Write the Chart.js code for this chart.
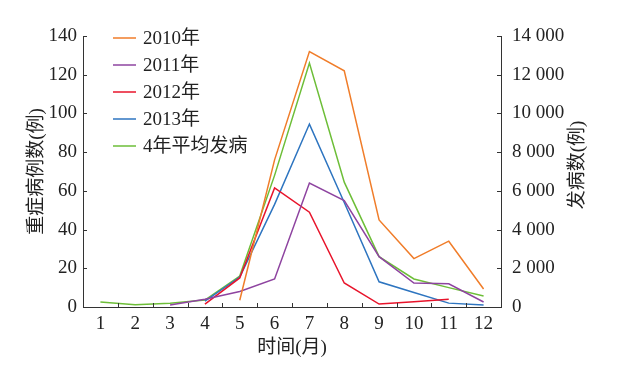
<!DOCTYPE html>
<html>
<head>
<meta charset="utf-8">
<script src="https://cdn.jsdelivr.net/npm/chart.js@4/dist/chart.umd.min.js"></script>
<style>
  body { margin: 0; background: #fff; }
  canvas { display: block; }
</style>
</head>
<body>
<canvas id="grafico" width="621" height="374"></canvas>
<script>
const meses = ['1', '2', '3', '4', '5', '6', '7', '8', '9', '10', '11', '12'];
const casos2010 = [null, null, null, null, 3.5, 76, 132, 122, 45, 25, 34, 9.3];
const casos2011 = [null, null, 1, 4, 8, 14.5, 64, 55, 26, 12.4, 12, 2.6];
const casos2012 = [null, null, null, 1.5, 15, 61.5, 49, 12.4, 1.5, 2.7, 4, null];
const casos2013 = [null, null, null, 3, 15.5, 53, 94.5, 54, 13, 7.5, 2, 1];
// media de 4 anos, eixo da direita
const media4anos = [260, 120, 200, 360, 1600, 6800, 12600, 6450, 2600, 1450, 1000, 570];

const fonte = "'Liberation Serif', 'Noto Sans CJK SC', serif";
const corEixo = '#333';
const corTexto = '#222';

// tracinhos para dentro, nos eixos
const marcasInternas = {
  id: 'marcasInternas',
  afterDraw(chart) {
    const c = chart.ctx;
    const x = chart.scales.x, y = chart.scales.y, y1 = chart.scales.y1;
    c.save();
    c.strokeStyle = corEixo;
    c.lineWidth = 1;
    c.beginPath();
    for (let i = 0; i < meses.length - 1; i++) {
      const px = Math.round((x.getPixelForValue(i) + x.getPixelForValue(i + 1)) / 2) + 0.5;
      c.moveTo(px, x.top);
      c.lineTo(px, x.top - 4);
    }
    y.ticks.forEach(t => {
      const py = Math.round(y.getPixelForValue(t.value)) + 0.5;
      c.moveTo(y.right, py);
      c.lineTo(y.right + 4, py);
    });
    y1.ticks.forEach(t => {
      const py = Math.round(y1.getPixelForValue(t.value)) + 0.5;
      c.moveTo(y1.left, py);
      c.lineTo(y1.left - 4, py);
    });
    c.stroke();
    c.restore();
  }
};

// legenda e titulo do eixo direito
const legendaManual = {
  id: 'legendaManual',
  afterDraw(chart) {
    const c = chart.ctx;
    c.save();
    c.font = '19px ' + fonte;
    c.textBaseline = 'middle';
    c.fillStyle = corTexto;
    chart.data.datasets.forEach((ds, i) => {
      const ly = 38 + i * 27;
      c.strokeStyle = ds.borderColor;
      c.lineWidth = 1.5;
      c.beginPath();
      c.moveTo(113, ly);
      c.lineTo(136, ly);
      c.stroke();
      c.fillText(ds.label, 143, ly + 1);
    });
    c.translate(578, 165);
    c.rotate(-Math.PI / 2);
    c.textAlign = 'center';
    c.fillText('发病数(例)', 0, 0);
    c.restore();
  }
};

const ctx = document.getElementById('grafico');

new Chart(ctx, {
  type: 'line',
  data: {
    labels: meses,
    datasets: [
      { label: '2010年', data: casos2010, borderColor: '#f07d2a', yAxisID: 'y' },
      { label: '2011年', data: casos2011, borderColor: '#8e44a0', yAxisID: 'y' },
      { label: '2012年', data: casos2012, borderColor: '#e8142b', yAxisID: 'y' },
      { label: '2013年', data: casos2013, borderColor: '#2e75c0', yAxisID: 'y' },
      { label: '4年平均发病', data: media4anos, borderColor: '#6dbe38', yAxisID: 'y1' }
    ].map(d => Object.assign(d, { borderWidth: 1.5, pointRadius: 0, fill: false, tension: 0 }))
  },
  options: {
    responsive: false,
    animation: false,
    layout: { padding: { top: 36, left: 0, right: 0, bottom: 0 } },
    plugins: { legend: { display: false }, tooltip: { enabled: false } },
    scales: {
      x: {
        offset: true,
        grid: { display: false, drawTicks: false },
        border: { display: true, color: corEixo },
        ticks: { color: corTexto, font: { family: fonte, size: 19 }, padding: 6, maxRotation: 0, autoSkip: false },
        title: { display: true, text: '时间(月)', color: corTexto, font: { family: fonte, size: 19 }, padding: { bottom: 15 } },
        afterFit(s) { s.height = 67; }
      },
      y: {
        position: 'left',
        min: 0, max: 140,
        grid: { display: false, drawTicks: false },
        border: { display: true, color: corEixo },
        ticks: { stepSize: 20, color: corTexto, font: { family: fonte, size: 19 }, padding: 6 },
        title: { display: true, text: '重症病例数(例)', color: corTexto, font: { family: fonte, size: 19 }, padding: { top: 26 } },
        afterFit(s) { s.width = 83; }
      },
      y1: {
        position: 'right',
        min: 0, max: 14000,
        grid: { display: false, drawTicks: false },
        border: { display: true, color: corEixo },
        ticks: {
          stepSize: 2000, color: corTexto, font: { family: fonte, size: 19 }, padding: 11,
          callback: v => v >= 1000 ? Math.floor(v / 1000) + ' ' + String(v % 1000).padStart(3, '0') : String(v)
        },
        afterFit(s) { s.width = 120; }
      }
    }
  },
  plugins: [marcasInternas, legendaManual]
});
</script>
</body>
</html>
